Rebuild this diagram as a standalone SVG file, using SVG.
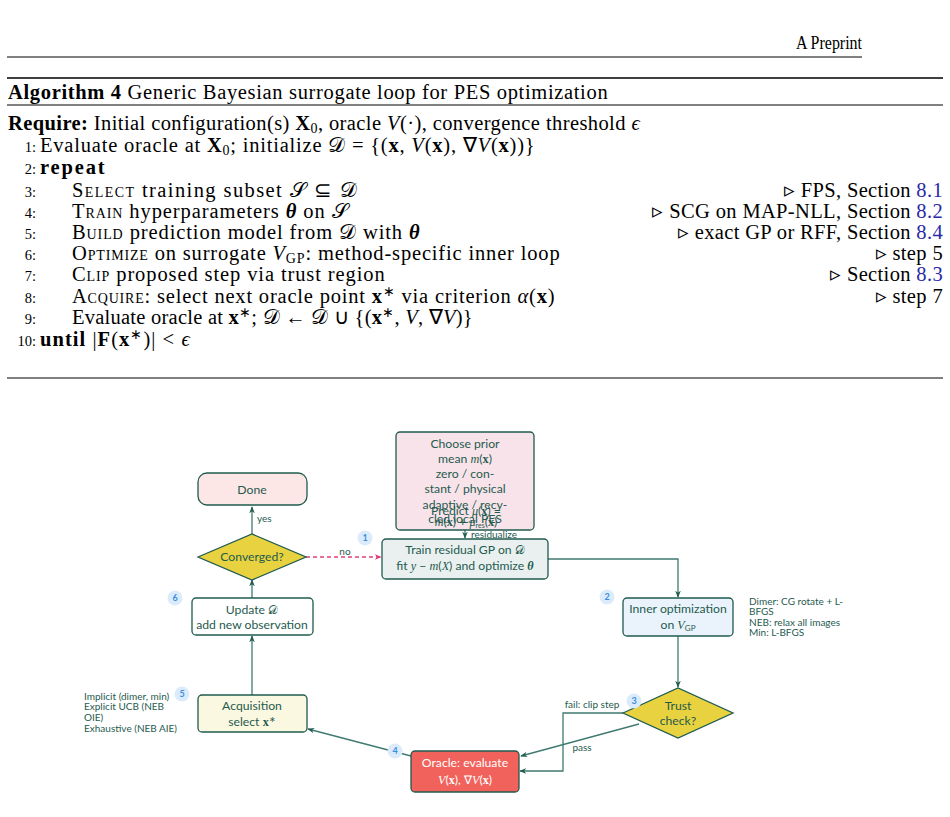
<svg xmlns="http://www.w3.org/2000/svg" width="950" height="817" viewBox="0 0 950 817">
<style>
.alg{font-family:"Liberation Serif",serif;font-size:20.5px;letter-spacing:0.35px;fill:#000}
.num{font-family:"Liberation Serif",serif;font-size:14.5px;fill:#000}
.sc{font-variant:small-caps}
.b{font-weight:bold}
.i{font-style:italic}
.bi{font-weight:bold;font-style:italic}
.cal{font-family:"DejaVu Sans","Noto Sans",serif;font-style:normal}
.ref{fill:#2a2aa8}
.rule{stroke:#000;fill:none}
.nt{font-family:Lato,"Open Sans",sans-serif;font-size:12.2px;fill:#1f5b4f;text-anchor:middle}
.m{font-family:"Liberation Serif",serif;font-style:italic}
.mb{font-family:"Liberation Serif",serif;font-weight:bold}
.ann{font-family:Lato,"Open Sans",sans-serif;font-size:10px;fill:#1f5b4f}
.lbl{font-family:Lato,"Open Sans",sans-serif;font-size:10px;fill:#1f5b4f}
.node{stroke:#1f5b4f;stroke-width:1.3}
.edge{stroke:#3f7a70;stroke-width:1.3;fill:none}
.badge circle{fill:#dcebfb}
.badge text{font-family:Lato,"Open Sans",sans-serif;font-size:9px;font-weight:bold;fill:#3a8ee0;text-anchor:middle}
</style>
<defs>
<marker id="ah" viewBox="0 0 10 10" refX="9" refY="5" markerWidth="7" markerHeight="7" orient="auto-start-reverse" markerUnits="userSpaceOnUse">
<path d="M0,1 L10,5 L0,9 L3,5 Z" fill="#1f5b4f"/>
</marker>
<marker id="ahp" viewBox="0 0 10 10" refX="9" refY="5" markerWidth="7" markerHeight="7" orient="auto" markerUnits="userSpaceOnUse">
<path d="M0,1 L10,5 L0,9 L3,5 Z" fill="#e0407a"/>
</marker>
</defs>

<!-- page header -->
<g id="header">
<text x="796" y="49" class="alg" style="font-size:19px;letter-spacing:0" textLength="66" lengthAdjust="spacingAndGlyphs">A Preprint</text>
<line x1="7" y1="57" x2="862" y2="57" class="rule" stroke-width="1"/>
</g>

<!-- algorithm -->
<g id="algorithm">
<line x1="7" y1="78" x2="943" y2="78" class="rule" stroke-width="1.6"/>
<text x="8" y="99" class="alg" textLength="600" lengthAdjust="spacing"><tspan class="b">Algorithm 4</tspan> Generic Bayesian surrogate loop for PES optimization</text>
<line x1="7" y1="105" x2="943" y2="105" class="rule" stroke-width="1"/>

<text x="8" y="130" class="alg" textLength="632" lengthAdjust="spacing"><tspan class="b">Require:</tspan> Initial configuration(s) <tspan class="b">X</tspan><tspan font-size="14" dy="3">0</tspan><tspan dy="-3">, oracle </tspan><tspan class="i">V</tspan>(·), convergence threshold <tspan class="i">ϵ</tspan></text>

<text x="36" y="152" class="num" text-anchor="end">1:</text>
<text x="40" y="152" class="alg" textLength="495" lengthAdjust="spacing">Evaluate oracle at <tspan class="b">X</tspan><tspan font-size="14" dy="3">0</tspan><tspan dy="-3">; initialize </tspan><tspan class="cal">𝒟</tspan> = {(<tspan class="b">x</tspan>, <tspan class="i">V</tspan>(<tspan class="b">x</tspan>), ∇<tspan class="i">V</tspan>(<tspan class="b">x</tspan>))}</text>

<text x="36" y="174" class="num" text-anchor="end">2:</text>
<text x="40" y="174" class="alg b" textLength="65" lengthAdjust="spacing">repeat</text>

<text x="36" y="197" class="num" text-anchor="end">3:</text>
<text x="72" y="197" class="alg" textLength="285" lengthAdjust="spacing"><tspan class="sc">Select</tspan> training subset <tspan class="cal">𝒮</tspan> ⊆ <tspan class="cal">𝒟</tspan></text>
<text x="943" y="197" class="alg" text-anchor="end">▹ FPS, Section <tspan class="ref">8.1</tspan></text>

<text x="36" y="218" class="num" text-anchor="end">4:</text>
<text x="72" y="218" class="alg" textLength="276" lengthAdjust="spacing"><tspan class="sc">Train</tspan> hyperparameters <tspan class="bi">θ</tspan> on <tspan class="cal">𝒮</tspan></text>
<text x="943" y="218" class="alg" text-anchor="end">▹ SCG on MAP-NLL, Section <tspan class="ref">8.2</tspan></text>

<text x="36" y="239" class="num" text-anchor="end">5:</text>
<text x="72" y="239" class="alg" textLength="348" lengthAdjust="spacing"><tspan class="sc">Build</tspan> prediction model from <tspan class="cal">𝒟</tspan> with <tspan class="bi">θ</tspan></text>
<text x="943" y="239" class="alg" text-anchor="end">▹ exact GP or RFF, Section <tspan class="ref">8.4</tspan></text>

<text x="36" y="260" class="num" text-anchor="end">6:</text>
<text x="72" y="260" class="alg" textLength="488" lengthAdjust="spacing"><tspan class="sc">Optimize</tspan> on surrogate <tspan class="i">V</tspan><tspan font-size="14" dy="3">GP</tspan><tspan dy="-3">: method-specific inner loop</tspan></text>
<text x="943" y="260" class="alg" text-anchor="end">▹ step 5</text>

<text x="36" y="281" class="num" text-anchor="end">7:</text>
<text x="72" y="281" class="alg" textLength="313" lengthAdjust="spacing"><tspan class="sc">Clip</tspan> proposed step via trust region</text>
<text x="943" y="281" class="alg" text-anchor="end">▹ Section <tspan class="ref">8.3</tspan></text>

<text x="36" y="303" class="num" text-anchor="end">8:</text>
<text x="72" y="303" class="alg" textLength="483" lengthAdjust="spacing"><tspan class="sc">Acquire</tspan>: select next oracle point <tspan class="b">x</tspan><tspan font-size="14" dy="-7">∗</tspan><tspan dy="7"> via criterion </tspan><tspan class="i">α</tspan>(<tspan class="b">x</tspan>)</text>
<text x="943" y="303" class="alg" text-anchor="end">▹ step 7</text>

<text x="36" y="324" class="num" text-anchor="end">9:</text>
<text x="72" y="324" class="alg" textLength="401" lengthAdjust="spacing">Evaluate oracle at <tspan class="b">x</tspan><tspan font-size="14" dy="-7">∗</tspan><tspan dy="7">; </tspan><tspan class="cal">𝒟</tspan> ← <tspan class="cal">𝒟</tspan> ∪ {(<tspan class="b">x</tspan><tspan font-size="14" dy="-7">∗</tspan><tspan dy="7">, </tspan><tspan class="i">V</tspan>, ∇<tspan class="i">V</tspan>)}</text>

<text x="36" y="346" class="num" text-anchor="end">10:</text>
<text x="40" y="346" class="alg" textLength="150" lengthAdjust="spacing"><tspan class="b">until</tspan> |<tspan class="b">F</tspan>(<tspan class="b">x</tspan><tspan font-size="14" dy="-7">∗</tspan><tspan dy="7">)| &lt; </tspan><tspan class="i">ϵ</tspan></text>

<line x1="7" y1="378" x2="943" y2="378" class="rule" stroke-width="1"/>
</g>

<!-- connectors -->
<g id="connectors">
<path class="edge" d="M252,534 V507" marker-end="url(#ah)"/>
<path d="M306,557 H381" stroke="#e0407a" stroke-width="1.3" stroke-dasharray="4,3" fill="none" marker-end="url(#ahp)"/>
<path class="edge" d="M465,530 V538" marker-end="url(#ah)"/>
<path class="edge" d="M548,559 H678 V597" marker-end="url(#ah)"/>
<path class="edge" d="M678,636 V687" marker-end="url(#ah)"/>
<path class="edge" stroke="#1f5b4f" d="M623,713 H563 V771 H520" marker-end="url(#ah)"/>
<path class="edge" stroke="#1f5b4f" d="M639,724 L521,756" marker-end="url(#ah)"/>
<path class="edge" stroke="#1f5b4f" d="M411,756 L308,729" marker-end="url(#ah)"/>
<path class="edge" d="M252,695 V636" marker-end="url(#ah)"/>
<path class="edge" d="M252,598 V580" marker-end="url(#ah)"/>
<text class="lbl" x="257" y="522">yes</text>
<text class="lbl" x="345" y="555" text-anchor="middle">no</text>
<text class="lbl" x="471" y="538" font-size="9">residualize</text>
<text class="lbl" x="592" y="708" text-anchor="middle">fail:  clip step</text>
<text class="lbl" x="582" y="751" text-anchor="middle">pass</text>
</g>

<!-- nodes -->
<g id="done">
<rect class="node" x="198" y="473" width="109" height="32" rx="9" fill="#fce6e6"/>
<text class="nt" x="252" y="494">Done</text>
</g>

<g id="converged">
<polygon class="node" points="198,557 252,534 306,557 252,580" fill="#e8d23f"/>
<text class="nt" x="252" y="561">Converged?</text>
</g>

<g id="prior">
<rect class="node" x="396" y="432" width="138" height="98" rx="4" fill="#f9e3ea"/>
<text class="nt" x="465" y="448">Choose prior</text>
<text class="nt" x="465" y="463">mean <tspan class="m">m</tspan>(<tspan class="mb">x</tspan>)</text>
<text class="nt" x="465" y="478">zero / con-</text>
<text class="nt" x="465" y="493">stant / physical</text>
<text class="nt" x="465" y="509">adaptive / recy-</text>
<text class="nt" x="465" y="523">cled local PES</text>
<text class="nt" x="466" y="515" font-size="10">Predict <tspan class="m">μ</tspan>(<tspan class="mb">x</tspan>) =</text>
<text class="nt" x="466" y="526" font-size="10"><tspan class="m">m</tspan>(<tspan class="mb">x</tspan>) + <tspan class="m">μ</tspan><tspan font-size="7" dy="2">res</tspan><tspan dy="-2">(</tspan><tspan class="mb">x</tspan>)</text>
</g>

<g id="train">
<rect class="node" x="382" y="539" width="166" height="40" rx="4" fill="#e9f0ef"/>
<text class="nt" x="465" y="554">Train residual GP on <tspan class="cal">𝒟</tspan></text>
<text class="nt" x="465" y="570">fit <tspan class="m">y</tspan> − <tspan class="m">m</tspan>(<tspan class="m">X</tspan>) and optimize <tspan class="mb" font-style="italic">θ</tspan></text>
</g>

<g id="inner">
<rect class="node" x="623" y="598" width="110" height="38" rx="4" fill="#eaf3fb"/>
<text class="nt" x="678" y="613">Inner optimization</text>
<text class="nt" x="678" y="629">on <tspan class="m">V</tspan><tspan font-size="8" dy="2">GP</tspan></text>
</g>
<g id="inner-note">
<text class="ann" x="749" y="605">Dimer:  CG rotate + L-</text>
<text class="ann" x="749" y="615">BFGS</text>
<text class="ann" x="749" y="626">NEB: relax all images</text>
<text class="ann" x="749" y="636">Min:  L-BFGS</text>
</g>

<g id="trust">
<polygon class="node" points="623,713 678,688 733,713 678,738" fill="#e8d23f"/>
<text class="nt" x="678" y="710">Trust</text>
<text class="nt" x="678" y="725">check?</text>
</g>

<g id="oracle">
<rect class="node" x="411" y="751" width="108" height="41" rx="4" fill="#f0625b"/>
<text class="nt" x="465" y="767" style="fill:#fff">Oracle:  evaluate</text>
<text class="nt" x="465" y="784" style="fill:#fff"><tspan class="m">V</tspan>(<tspan class="mb">x</tspan>), ∇<tspan class="m">V</tspan>(<tspan class="mb">x</tspan>)</text>
</g>

<g id="acquisition">
<rect class="node" x="198" y="695" width="109" height="37" rx="4" fill="#fbf8e1"/>
<text class="nt" x="252" y="710">Acquisition</text>
<text class="nt" x="252" y="726">select <tspan class="mb">x</tspan><tspan font-size="8" dy="-4">∗</tspan></text>
</g>
<g id="acq-note">
<text class="ann" x="84" y="700">Implicit (dimer, min)</text>
<text class="ann" x="84" y="710">Explicit UCB (NEB</text>
<text class="ann" x="84" y="721">OIE)</text>
<text class="ann" x="84" y="732">Exhaustive (NEB AIE)</text>
</g>

<g id="update">
<rect class="node" x="192" y="598" width="121" height="37" rx="4" fill="#ffffff"/>
<text class="nt" x="252" y="614">Update <tspan class="cal">𝒟</tspan></text>
<text class="nt" x="252" y="629">add new observation</text>
</g>

<g id="badges">
<g class="badge"><circle cx="365" cy="538" r="7.5"/><text x="365" y="541">1</text></g>
<g class="badge"><circle cx="607" cy="597" r="7.5"/><text x="607" y="600">2</text></g>
<g class="badge"><circle cx="634" cy="701" r="7.5"/><text x="634" y="704">3</text></g>
<g class="badge"><circle cx="395" cy="751" r="7.5"/><text x="395" y="754">4</text></g>
<g class="badge"><circle cx="182" cy="694" r="7.5"/><text x="182" y="697">5</text></g>
<g class="badge"><circle cx="175" cy="598" r="7.5"/><text x="175" y="601">6</text></g>
</g>
</svg>
